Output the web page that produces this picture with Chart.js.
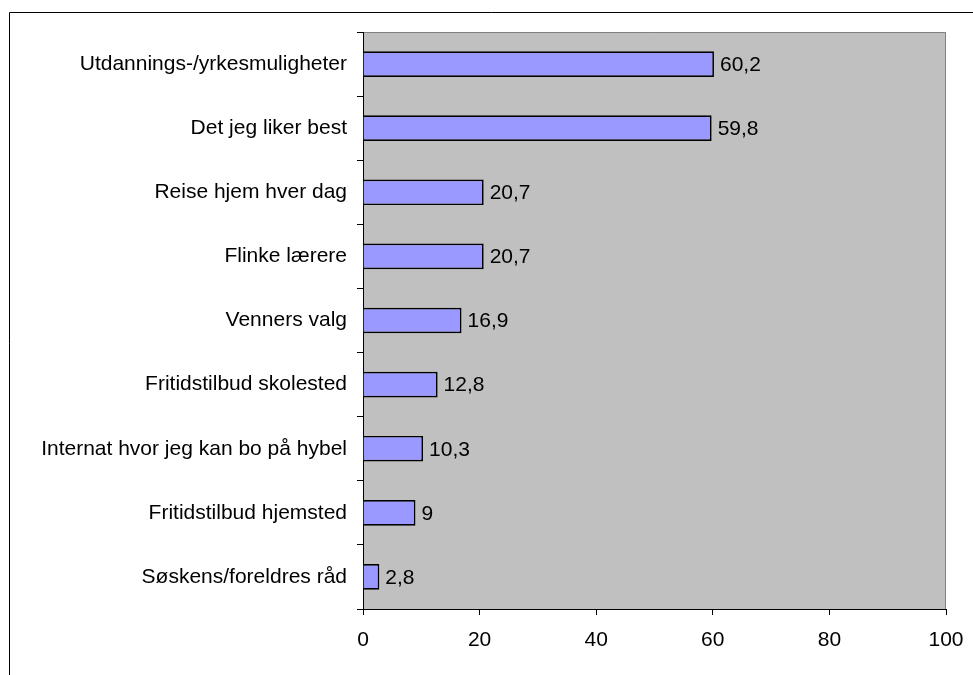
<!DOCTYPE html>
<html lang="no">
<head>
  <meta charset="UTF-8">
  <title>Valg av skole</title>
  <script src="https://cdn.jsdelivr.net/npm/chart.js"></script>
  <style>
    html, body {
      margin: 0;
      padding: 0;
      background: #fff;
      overflow: hidden;
    }
    canvas {
      display: block;
    }
  </style>
</head>
<body>
  <canvas id="reasonChart" width="973" height="675"></canvas>

<script>
  const categories = [
    'Utdannings-/yrkesmuligheter',
    'Det jeg liker best',
    'Reise hjem hver dag',
    'Flinke lærere',
    'Venners valg',
    'Fritidstilbud skolested',
    'Internat hvor jeg kan bo på hybel',
    'Fritidstilbud hjemsted',
    'Søskens/foreldres råd'
  ];
  const values = [60.2, 59.8, 20.7, 20.7, 16.9, 12.8, 10.3, 9, 2.8];
  const xTicks = [0, 20, 40, 60, 80, 100];

  const fontFamily = "'Liberation Sans', Arial, sans-serif";

  // grey plot area, outer frame
  const backdrop = {
    id: 'backdrop',
    beforeDraw(chart) {
      const { ctx, chartArea: a } = chart;
      ctx.save();
      ctx.fillStyle = '#c0c0c0';
      ctx.fillRect(a.left, a.top, a.right - a.left, a.bottom - a.top);
      ctx.strokeStyle = '#808080';
      ctx.lineWidth = 1;
      ctx.beginPath();
      ctx.moveTo(a.left, a.top + 0.5);
      ctx.lineTo(a.right - 0.5, a.top + 0.5);
      ctx.lineTo(a.right - 0.5, a.bottom);
      ctx.stroke();
      ctx.strokeStyle = '#000';
      ctx.beginPath();
      ctx.moveTo(9.5, chart.height);
      ctx.lineTo(9.5, 12.5);
      ctx.lineTo(chart.width, 12.5);
      ctx.stroke();
      ctx.restore();
    }
  };

  // value labels to the right of each bar
  const valueLabels = {
    id: 'valueLabels',
    afterDatasetsDraw(chart) {
      const { ctx } = chart;
      const meta = chart.getDatasetMeta(0);
      ctx.save();
      ctx.fillStyle = '#000';
      ctx.font = '21px ' + fontFamily;
      ctx.textBaseline = 'middle';
      meta.data.forEach((bar, i) => {
        const txt = String(values[i]).replace('.', ',');
        ctx.fillText(txt, bar.x + 6, bar.y + 1);
      });
      ctx.restore();
    }
  };

  const ctx = document.getElementById('reasonChart').getContext('2d');

  new Chart(ctx, {
    type: 'bar',
    data: {
      labels: categories,
      datasets: [{
        data: values,
        backgroundColor: '#9999ff',
        borderColor: '#000',
        borderWidth: 1.7,
        barPercentage: 0.8,
        categoryPercentage: 0.5
      }]
    },
    options: {
      indexAxis: 'y',
      responsive: false,
      animation: false,
      layout: { padding: { top: 32, right: 27, left: 0, bottom: 0 } },
      plugins: {
        legend: { display: false },
        tooltip: { enabled: false }
      },
      scales: {
        x: {
          min: 0,
          max: 100,
          afterBuildTicks: scale => {
            scale.ticks = xTicks.map(v => ({ value: v }));
          },
          afterFit: scale => {
            scale.height = 66;
            scale.paddingLeft = 0;
            scale.paddingRight = 0;
          },
          border: { color: '#000', width: 1 },
          grid: { drawOnChartArea: false, color: '#000', tickLength: 6 },
          ticks: {
            color: '#000',
            padding: 13,
            font: { family: fontFamily, size: 21 }
          }
        },
        y: {
          afterFit: scale => { scale.width = 363; },
          border: { color: '#000', width: 1 },
          grid: { drawOnChartArea: false, color: '#000', tickLength: 6 },
          ticks: {
            color: '#000',
            padding: 10,
            font: { family: fontFamily, size: 21 }
          }
        }
      }
    },
    plugins: [backdrop, valueLabels]
  });
</script>
</body>
</html>
